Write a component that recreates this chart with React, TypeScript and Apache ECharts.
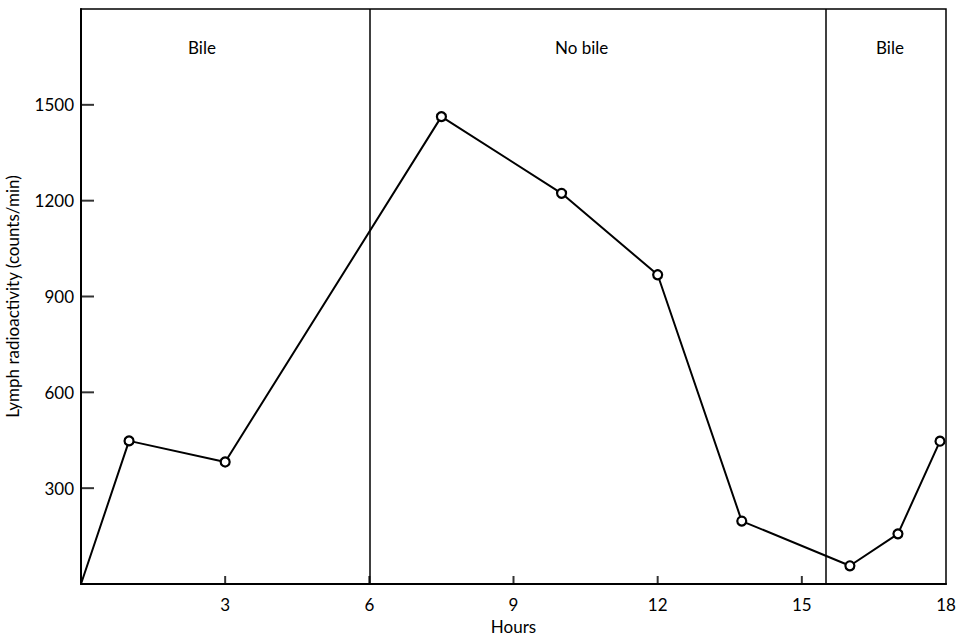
import React, { useEffect, useRef } from "react";
import * as echarts from "echarts";

const hours = [0, 1, 3, 7.5, 10, 12, 13.75, 16, 17, 17.875];
const radioactivity = [0, 448, 382, 1463, 1223, 968, 197, 57, 157, 447];
const phaseBoundaries = [6, 15.5];
const phaseLabels = ["Bile", "No bile", "Bile"];
const xTicks = [3, 6, 9, 12, 15, 18];
const yTicks = [300, 600, 900, 1200, 1500];

const FONT = "Lato, 'Open Sans', sans-serif";

export default function App() {
  const ref = useRef<HTMLDivElement>(null);
  useEffect(() => {
    if (!ref.current) return;
    const chart = echarts.init(ref.current, undefined, { renderer: "svg" });
    const data = hours.map((h, i) => ({
      value: [h, radioactivity[i]],
      symbol: i === 0 ? "none" : "circle",
    }));
    chart.setOption({
      animation: false,
      backgroundColor: "#fff",
      grid: {
        left: 81,
        right: 14,
        top: 9,
        bottom: 53,
        show: true,
        borderColor: "#000",
        borderWidth: 1.5,
        outerBoundsMode: "none",
        containLabel: false,
      },
      xAxis: {
        type: "value",
        min: 0,
        max: 18,
        interval: 3,
        name: "Hours",
        nameLocation: "middle",
        nameGap: 32,
        nameTextStyle: { color: "#000", fontFamily: FONT, fontSize: 17 },
        axisLine: { show: true, onZero: false, lineStyle: { color: "#000", width: 2 } },
        axisTick: { show: false },
        axisLabel: {
          color: "#000",
          fontFamily: FONT,
          fontSize: 17,
          margin: 12,
          showMinLabel: false,
          showMaxLabel: true,
          formatter: (v: number) => String(v),
        },
        splitLine: { show: false },
      },
      yAxis: {
        type: "value",
        min: 0,
        max: 1800,
        interval: 300,
        name: "Lymph radioactivity (counts/min)",
        nameLocation: "middle",
        nameGap: 60,
        nameTextStyle: { color: "#000", fontFamily: FONT, fontSize: 17 },
        axisLine: { show: true, onZero: false, lineStyle: { color: "#000", width: 2 } },
        axisTick: { show: false },
        axisLabel: {
          color: "#000",
          fontFamily: FONT,
          fontSize: 17,
          margin: 7,
          showMinLabel: false,
          showMaxLabel: false,
          formatter: (v: number) => String(v),
        },
        splitLine: { show: false },
      },
      graphic: [
        { type: "text", left: 188, top: 39, style: { text: phaseLabels[0], font: `17px ${FONT}`, fill: "#000" } },
        { type: "text", left: 555, top: 39, style: { text: phaseLabels[1], font: `17px ${FONT}`, fill: "#000" } },
        { type: "text", left: 876, top: 39, style: { text: phaseLabels[2], font: `17px ${FONT}`, fill: "#000" } },
      ],
      series: [
        {
          type: "line",
          data,
          symbolSize: 9,
          showAllSymbol: true,
          lineStyle: { color: "#000", width: 2 },
          itemStyle: { color: "#fff", borderColor: "#000", borderWidth: 2.2 },
          markLine: {
            silent: true,
            symbol: "none",
            label: { show: false },
            lineStyle: { color: "#000", width: 1.5, type: "solid" },
            data: phaseBoundaries.map((b) => ({ xAxis: b })),
          },
          z: 3,
        },
        {
          type: "scatter",
          silent: true,
          clip: false,
          data: yTicks.map((v) => [0, v]),
          symbol: "rect",
          symbolSize: [13, 2],
          symbolOffset: [6.5, 0],
          itemStyle: { color: "#000" },
          z: 4,
        },
        {
          type: "scatter",
          silent: true,
          clip: false,
          data: xTicks.filter((v) => v < 18).map((v) => [v, 0]),
          symbol: "rect",
          symbolSize: [2, 8],
          symbolOffset: [0, -4],
          itemStyle: { color: "#000" },
          z: 4,
        },
      ],
    });
    return () => chart.dispose();
  }, []);
  return (
    <div
      ref={ref}
      style={{ position: "absolute", left: 0, top: 0, width: 960, height: 637 }}
    />
  );
}
